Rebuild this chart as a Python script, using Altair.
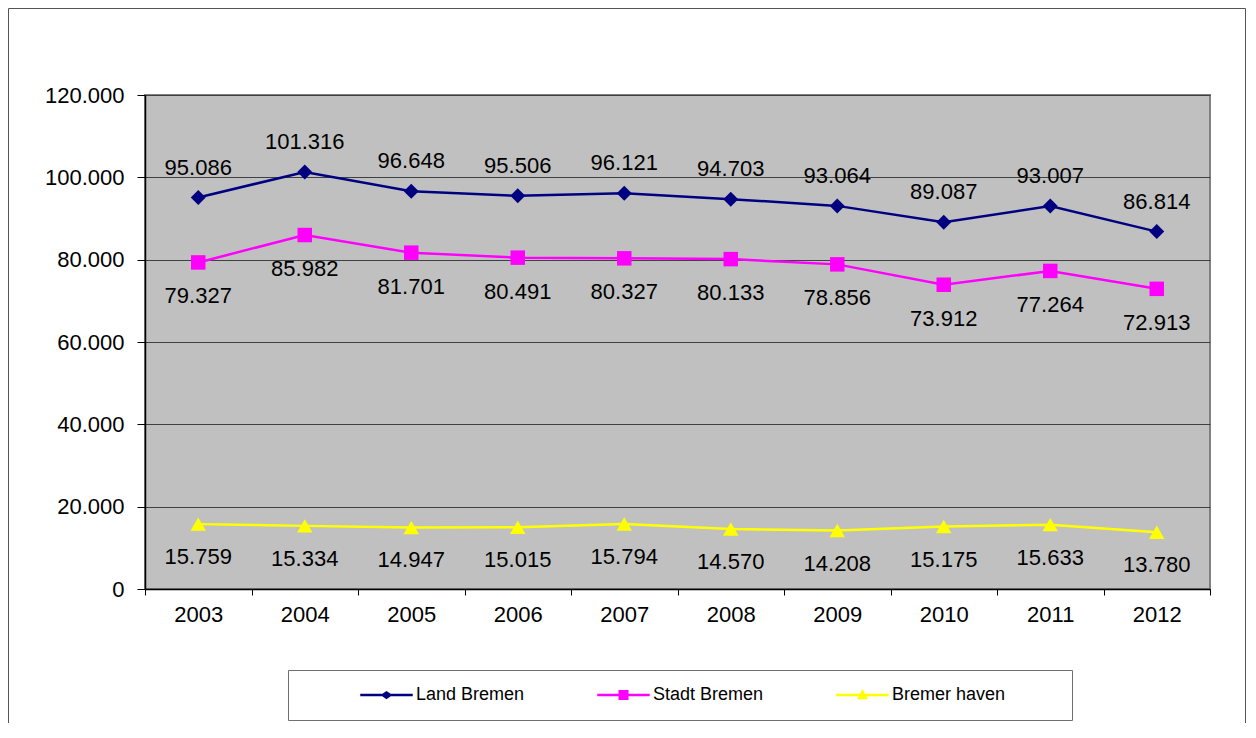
import altair as alt
import pandas as pd

years = ["2003", "2004", "2005", "2006", "2007", "2008", "2009", "2010", "2011", "2012"]
series_names = ["Land Bremen", "Stadt Bremen", "Bremer haven"]
land_bremen = [95086, 101316, 96648, 95506, 96121, 94703, 93064, 89087, 93007, 86814]
stadt_bremen = [79327, 85982, 81701, 80491, 80327, 80133, 78856, 73912, 77264, 72913]
bremerhaven = [15759, 15334, 14947, 15015, 15794, 14570, 14208, 15175, 15633, 13780]
colors = ["#000080", "#FF00FF", "#FFFF00"]
y_ticks = [0, 20000, 40000, 60000, 80000, 100000, 120000]

FONT = "Liberation Sans"

rows = []
for name, vals in zip(series_names, [land_bremen, stadt_bremen, bremerhaven]):
    for yr, v in zip(years, vals):
        rows.append({"year": yr, "series": name, "value": v})
df = pd.DataFrame(rows)

base = alt.Chart(df).transform_calculate(
    label="replace(format(datum.value, ','), ',', '.')"
)

x_enc = alt.X(
    "year:O",
    sort=years,
    scale=alt.Scale(type="band", domain=years, paddingInner=0, paddingOuter=0),
    axis=alt.Axis(
        title=None, grid=False, tickBand="extent", tickSize=6, labelPadding=9,
        labelAngle=0, labelFont=FONT, labelFontSize=22, labelColor="#000",
        domainColor="#000", domainWidth=1.5, tickColor="#000", tickWidth=1,
    ),
)
y_enc = alt.Y(
    "value:Q",
    scale=alt.Scale(domain=[0, 120000], nice=False, zero=True),
    axis=alt.Axis(
        title=None, values=y_ticks,
        labelExpr="replace(format(datum.value, ','), ',', '.')",
        grid=True, gridColor="#404040", gridWidth=1,
        tickSize=8, labelPadding=13, labelFont=FONT, labelFontSize=22,
        labelColor="#000", domainColor="#000", domainWidth=1.5,
        tickColor="#000", tickWidth=1,
    ),
)

marker_shapes = ["diamond", "square", "triangle-up"]
marker_sizes = [225, 210, 240]
label_dy = [-30, 34, 33]

layers = []
for name, col, shp, sz in zip(series_names, colors, marker_shapes, marker_sizes):
    sub = base.transform_filter(alt.datum.series == name)
    layers.append(sub.mark_line(color=col, strokeWidth=2.5).encode(x=x_enc, y=y_enc))
    layers.append(
        sub.mark_point(shape=shp, filled=True, size=sz, opacity=1, strokeWidth=0, color=col)
        .encode(x=x_enc, y=y_enc)
    )
for name, dy in zip(series_names, label_dy):
    layers.append(
        base.transform_filter(alt.datum.series == name)
        .mark_text(font=FONT, fontSize=22, color="#000", dy=dy, baseline="middle", align="center")
        .encode(x=x_enc, y=y_enc, text="label:N")
    )

legend_paths = [
    "M-3.5,-0.17H3.5V0.17H-3.5Z M0,-0.55L0.8,0L0,0.55L-0.8,0Z",
    "M-3.5,-0.17H3.5V0.17H-3.5Z M-0.67,-0.67H0.67V0.67H-0.67Z",
    "M-3.5,-0.17H3.5V0.17H-3.5Z M0,-0.8L0.75,0.55H-0.75Z",
]

legend_props = dict(
    orient="none", legendX=143, legendY=575, direction="horizontal",
    title=" ", titleOrient="right", titlePadding=51, titleFontSize=10,
    padding=16, strokeColor="#707070", fillColor="#FFFFFF",
    symbolSize=225, symbolOffset=73.5, labelOffset=20.5, columnPadding=16,
    labelFont=FONT, labelFontSize=18, labelColor="#000", labelBaseline="middle",
    symbolStrokeWidth=0,
)

legend_layer = base.transform_filter("false").mark_point(
    filled=True, opacity=1, size=225, strokeWidth=0
).encode(
    x=x_enc, y=y_enc,
    color=alt.Color("series:N", scale=alt.Scale(domain=series_names, range=colors),
                    legend=alt.Legend(**legend_props)),
    shape=alt.Shape("series:N", scale=alt.Scale(domain=series_names, range=legend_paths),
                    legend=alt.Legend(**legend_props)),
)
layers.append(legend_layer)

frame_df = pd.DataFrame({"a": [0]})
frame_color = "#555555"
frame = [
    alt.Chart(frame_df).mark_rule(color=frame_color, strokeWidth=1).encode(
        x=alt.value(-136.5), y=alt.value(-86.5), y2=alt.value(628)),
    alt.Chart(frame_df).mark_rule(color=frame_color, strokeWidth=1).encode(
        x=alt.value(-136.5), x2=alt.value(1100.5), y=alt.value(-86.5)),
    alt.Chart(frame_df).mark_rule(color=frame_color, strokeWidth=1).encode(
        x=alt.value(1100.5), y=alt.value(-86.5), y2=alt.value(628)),
]

chart = alt.layer(*frame, *layers).properties(
    width=1065, height=494,
    autosize=alt.AutoSizeParams(type="none"),
    padding={"left": 137, "top": 87, "right": 36, "bottom": 134},
    background="#FFFFFF",
).configure_view(
    fill="#C0C0C0", stroke="#808080", strokeWidth=2,
)

chart.save("out.html", embed_options={"renderer": "svg", "actions": False})
